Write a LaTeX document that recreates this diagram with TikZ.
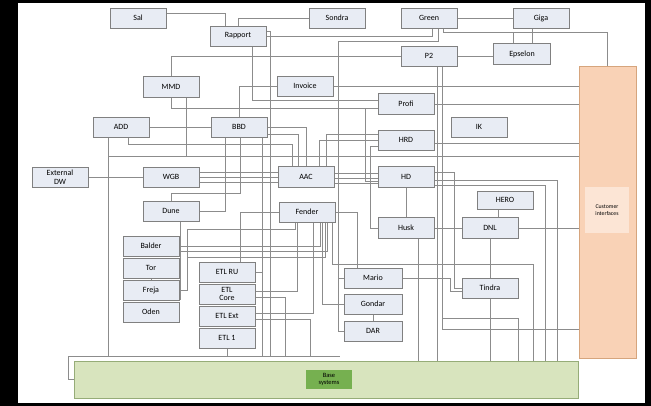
\documentclass[tikz,border=0pt]{standalone}
\usepackage{fontspec}
\setmainfont{Carlito}
\usetikzlibrary{calc,shadows}
\pgfdeclarelayer{back}
\pgfdeclarelayer{wires}
\pgfsetlayers{back,wires,main}
\definecolor{boxfill}{RGB}{232,236,244}
\definecolor{boxline}{RGB}{128,128,128}
\definecolor{wirec}{RGB}{140,140,140}
\definecolor{cifill}{RGB}{249,210,182}
\definecolor{ciline}{RGB}{214,165,125}
\definecolor{cilab}{RGB}{252,229,213}
\definecolor{basefill}{RGB}{216,228,190}
\definecolor{baseline}{RGB}{150,172,120}
\definecolor{baselab}{RGB}{118,176,80}
\begin{document}
\begin{tikzpicture}[x=1pt,y=-1pt,
  box/.style={draw=boxline,fill=boxfill,line width=0.9pt,minimum width=56pt,minimum height=20pt,inner sep=0pt,font=\fontsize{8}{8.5}\selectfont,text=black,align=center,
    drop shadow={shadow xshift=0.7pt,shadow yshift=-0.9pt,opacity=0.35,fill=black}},
  wire/.style={draw=wirec,line width=0.85pt}]
\begin{pgfonlayer}{back}
\fill[black] (0,0) rectangle (651,406);
\fill[white] (18,3) rectangle (645,403);
\end{pgfonlayer}
\useasboundingbox (0,0) rectangle (651,406);
% big blocks
\node[draw=ciline,fill=cifill,line width=0.8pt,minimum width=57pt,minimum height=292pt,inner sep=0pt] (ci) at (607.5,212) {};
\node[fill=cilab,minimum width=44pt,minimum height=46pt,inner sep=0pt,align=center,font=\fontsize{5.8}{6.3}\selectfont] (cilab) at (607,210) {Customer\\interfaces};
\node[draw=baseline,fill=basefill,line width=0.8pt,minimum width=504pt,minimum height=37pt,inner sep=0pt] (base) at (326,379.5) {};
\node[fill=baselab,minimum width=46pt,minimum height=19pt,inner sep=0pt,align=center,font=\fontsize{6.5}{7}\selectfont] (baselab) at (329,379.5) {Base\\systems};
% boxes
\node[box] (sal) at (138,18) {Sal};
\node[box] (rapport) at (238,36) {Rapport};
\node[box] (sondra) at (337,18) {Sondra};
\node[box] (green) at (429,18) {Green};
\node[box] (giga) at (541,18) {Giga};
\node[box] (p2) at (429,56) {P2};
\node[box,minimum width=57pt,minimum height=21pt] (epselon) at (522,54) {Epselon};
\node[box,minimum height=21pt] (mmd) at (171,87) {MMD};
\node[box] (invoice) at (305,86) {Invoice};
\node[box,minimum height=21pt] (profi) at (406,104) {Profi};
\node[box] (add) at (121,127) {ADD};
\node[box] (bbd) at (239,127) {BBD};
\node[box] (ik) at (479,127) {IK};
\node[box] (hrd) at (406,140) {HRD};
\node[box] (extdw) at (60,177) {External\\DW};
\node[box] (wgb) at (171,177) {WGB};
\node[box,minimum height=21pt] (aac) at (306,177) {AAC};
\node[box,minimum height=21pt] (hd) at (406,177) {HD};
\node[box] (dune) at (171,211) {Dune};
\node[box] (fender) at (307,212) {Fender};
\node[box,minimum height=18pt] (hero) at (505,200) {HERO};
\node[box,minimum height=21pt] (husk) at (406,228) {Husk};
\node[box,minimum height=21pt] (dnl) at (490,228) {DNL};
\node[box] (balder) at (151,246) {Balder};
\node[box] (tor) at (151,268) {Tor};
\node[box] (freja) at (151,290) {Freja};
\node[box] (oden) at (151,312) {Oden};
\node[box] (etlru) at (227,272) {ETL RU};
\node[box] (etlcore) at (227,294) {ETL\\Core};
\node[box] (etlext) at (227,316) {ETL Ext};
\node[box] (etl1) at (227,338) {ETL 1};
\node[box,minimum width=58pt] (mario) at (373,278) {Mario};
\node[box,minimum width=58pt] (gondar) at (373,304) {Gondar};
\node[box,minimum width=58pt] (dar) at (373,331) {DAR};
\node[box] (tindra) at (490,288) {Tindra};
% helper coordinates
\path ([xshift=8pt]p2.south) coordinate (p2a)
      (tindra.south) coordinate (tin)
      (invoice.east) coordinate (inv)
      (profi.east) coordinate (pro)
      ([yshift=-3pt]hrd.east) coordinate (hre)
      (dnl.east) coordinate (dne);
\begin{pgfonlayer}{wires}
% top
\draw[wire] ([yshift=5pt]sal.east) -| ([xshift=-13pt]rapport.north);
\draw[wire] (sondra.west) -| (rapport.north);
\draw[wire] (green.east) -- (giga.west);
\draw[wire] ([xshift=14pt]green.south) -- ++(0,4) -| (ci.north);
\draw[wire] ([xshift=-9pt]giga.south) -- ([xshift=10pt]epselon.north);
\draw[wire] ([xshift=-9pt]epselon.north) -- ++(0,-11);
\draw[wire] (p2.east) -- (p2.east -| epselon.west);
\draw[wire] (rapport.east) -| ([xshift=3pt]green.south);
\draw[wire] ([xshift=9pt]green.south) |- (338,41) -- (338,331) -- (dar.west);
\draw[wire] (mario.west) -- ++(-6,0);
\draw[wire] (gondar.west) -- ++(-6,0);
\draw[wire] (p2.west) -| (mmd.north);
\draw[wire] (p2a) -- (p2a |- base.north);
\draw[wire] ([xshift=13pt]p2.south) |- ([yshift=-117pt]ci.west);
\draw[wire] (442,318) -- (518,318) -- (518,361);
\draw[wire] ([xshift=14pt]rapport.south) |- ([yshift=4pt]profi.west);
\draw[wire] (mmd.south) |- ([yshift=-4pt]profi.west);
\draw[wire] (invoice.west) -| (bbd.north);
\draw[wire] (inv) -- (inv -| ci.west);
\draw[wire] (pro) -- (pro -| ci.west);
\draw[wire] (add.east) -- (bbd.west);
\draw[wire] ([xshift=15pt]mmd.south) -- ++(0,59);
\draw[wire] ([xshift=-13pt]add.south) |- ([yshift=56pt]ci.west);
\draw[wire] ([xshift=-13pt]add.south) -- ++(0,219);
\draw[wire] ([xshift=7pt]add.south) |- (292,144) -- ([xshift=-14pt]aac.north);
\draw[wire] (extdw.east) -- (wgb.west);
\foreach \d in {5,0,-5} \draw[wire] ([yshift=\d pt]wgb.east) -- ([yshift=\d pt]aac.west);
\foreach \d in {4,-1,-6} \draw[wire] ([yshift=\d pt]aac.east) -- ([yshift=\d pt]hd.west);
\draw[wire] (bbd.east) -| (aac.north);
\draw[wire] ([yshift=-7pt]bbd.east) -| ([xshift=-8pt]aac.north);
\draw[wire] ([xshift=-14pt]bbd.south) |- (dune.east);
\draw[wire] (dune.north) -- ++(0,-7) -| ([xshift=1pt]bbd.south);
\draw[wire] (freja.east) -- ++(8,0) |- (295,229) -- ([xshift=-12pt]fender.south);
\draw[wire] ([xshift=9pt]dune.south) -- ++(0,79);
\draw[wire] (fender.west) -| ([xshift=13pt]etlru.north);
\draw[wire] (balder.east) -| ([xshift=13pt]fender.south);
\draw[wire] ([yshift=-5pt]balder.east) -| ([xshift=20pt]fender.south);
\draw[wire] ([xshift=18pt]fender.south) |- (187,257);
\draw[wire] ([xshift=15pt]fender.south) |- (gondar.west);
\draw[wire] ([xshift=25pt]fender.south) |- (533,264) -- (533,361);
\draw[wire] (fender.east) -| ([xshift=-16pt]mario.north);
\draw[wire] ([yshift=3pt]etlcore.east) -| ([xshift=-10pt]fender.south);
\draw[wire] ([yshift=-3pt]etlcore.east) -| (285,356);
\draw[wire] ([yshift=3pt]etlext.east) -| ([xshift=6pt]fender.south);
\draw[wire] ([yshift=-3pt]etlext.east) -| (310,356);
\draw[wire] (etl1.south) -- ++(0,8);
\draw[wire] ([xshift=23pt]bbd.south) -- ++(0,219);
\draw[wire] (etlru.east) -- ++(7,0);
\draw[wire] ([yshift=5pt]rapport.east) -- ++(4,0) -- ++(0,325);
\draw[wire] (base.west) -- (68,379.5) -- (68,356) -- (340,356);
\draw[wire] ([xshift=12pt]husk.south) -- ++(0,122.5);
\draw[wire] ([yshift=5pt]hd.east) -- (454,172) |- (tindra.west);
\draw[wire] ([yshift=-3pt]hd.east) -| (557,361);
\draw[wire] ([yshift=-8pt]hd.east) -| (545,361);
\draw[wire] (hd.south) -- (husk.north);
\draw[wire] (husk.east) -- (dnl.west);
\draw[wire] (dne) -- (dne -| ci.west);
\draw[wire] (dnl.south) -- (tindra.north);
\draw[wire] (tin) -- (tin |- base.north);
\draw[wire] ([xshift=8pt]dnl.north) -- ([xshift=-7pt]hero.south);
\draw[wire] (hre) -- (hre -| ci.west);
\draw[wire] (hrd.west) -| ([xshift=13pt]aac.north);
\draw[wire] ([yshift=6pt]hrd.west) -| ([xshift=20pt]aac.north);
\draw[wire] ([yshift=-4pt]hd.west) -| (365,108);
\draw[wire] (husk.west) -| (370,146) -- ([yshift=-6pt]hrd.west);
\draw[wire] (mario.east) -- ++(48,0) |- ([yshift=-3pt]tindra.west);
\draw[wire] (gondar.south) -- (dar.north);
\draw[wire] (tor.south) -- (freja.north);
\end{pgfonlayer}
\end{tikzpicture}
\end{document}
